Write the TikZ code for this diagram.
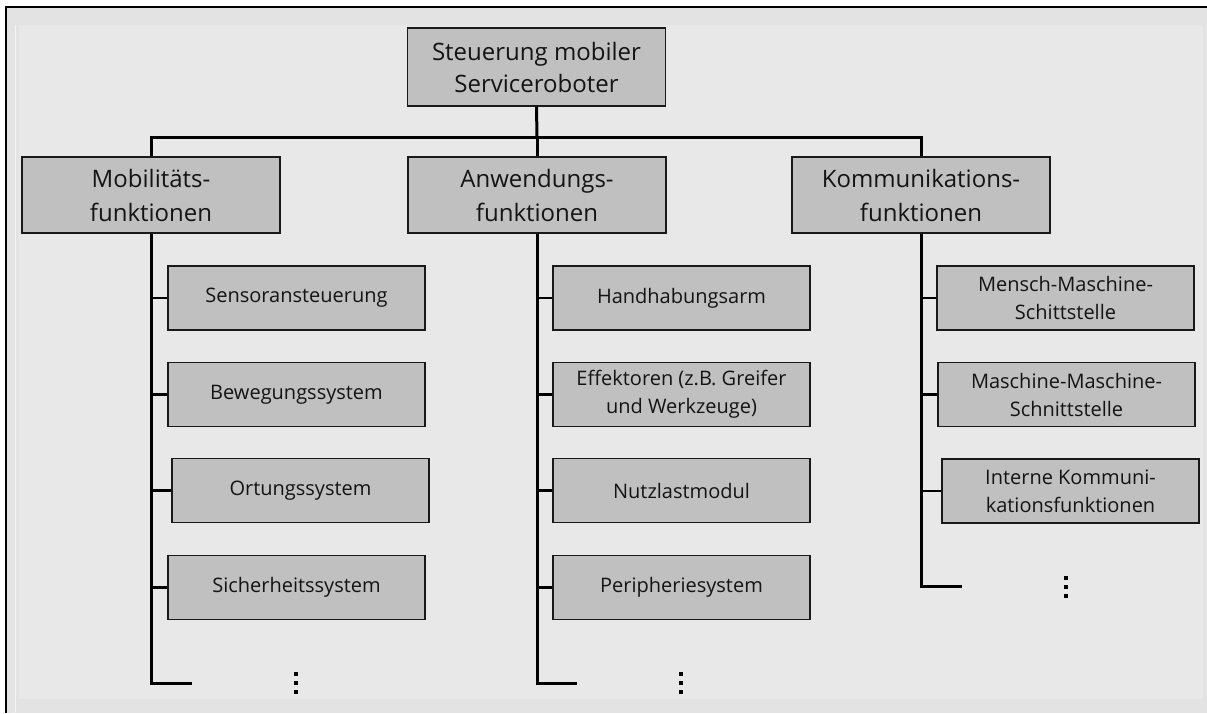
\documentclass[tikz,border=0pt]{standalone}
\usepackage{fontspec}
\setmainfont{Open Sans}
\definecolor{boxgray}{HTML}{C0C0C0}
\definecolor{bgouter}{HTML}{E3E3E3}
\definecolor{bginner}{HTML}{E8E8E8}
\definecolor{inktext}{HTML}{141414}
\begin{document}
\begin{tikzpicture}[x=1pt,y=-1pt,
  box/.style={draw=black!90, line width=1.3pt, fill=boxgray, text=inktext,
    align=center, inner sep=0pt},
  rootbox/.style={box, minimum width=258pt, minimum height=78pt,
    font=\fontsize{24}{32}\selectfont},
  groupbox/.style={box, minimum width=258pt, minimum height=76pt,
    font=\fontsize{24}{34}\selectfont},
  leafbox/.style={box, minimum width=257pt, minimum height=64pt,
    font=\fontsize{20}{28}\selectfont},
  link/.style={draw=black, line width=3pt},
  twig/.style={draw=black, line width=2.6pt},
  dot/.style={fill=black}
]
\useasboundingbox (0,0) rectangle (1207,713);

% backdrop and frame
\fill[white] (0,0) rectangle (1207,713);
\fill[bgouter] (6,7) rectangle (1207,713);
\fill[bginner] (19,25) rectangle (1203,699);
\draw[white!60!bgouter, line width=0.8pt] (15,25) -- (15,713);
\draw[black, line width=2pt] (5,6.5) -- (1207,6.5);
\draw[black, line width=2.4pt] (6.2,6) -- (6.2,713);

% root and the three function groups
\node[rootbox] (root) at (536.5,67) {Steuerung mobiler\\Serviceroboter};
\node[groupbox] (mob) at (151,195) {Mobilitäts-\\funktionen};
\node[groupbox] (anw) at (537,195) {Anwendungs-\\funktionen};
\node[groupbox] (kom) at (921,195) {Kommunikations-\\funktionen};

% leaves: mobility
\node[leafbox] (sens) at (296.5,298) {Sensoransteuerung};
\node[leafbox] (bew)  at (296.5,394.5) {Bewegungssystem};
\node[leafbox] (ort)  at (300.5,490.5) {Ortungssystem};
\node[leafbox] (sich) at (296.5,587.5) {Sicherheitssystem};

% leaves: application
\node[leafbox] (hand) at (681.5,298) {Handhabungsarm};
\node[leafbox] (eff)  at (681.5,394.5) {Effektoren (z.B. Greifer\\und Werkzeuge)};
\node[leafbox] (nutz) at (681.5,490.5) {Nutzlastmodul};
\node[leafbox] (peri) at (681.5,587.5) {Peripheriesystem};

% leaves: communication
\node[leafbox] (mmi)  at (1065.5,298) {Mensch-Maschine-\\Schittstelle};
\node[leafbox] (mms)  at (1066.5,394.5) {Maschine-Maschine-\\Schnittstelle};
\node[leafbox] (ikom) at (1070.5,491) {Interne Kommuni-\\kationsfunktionen};

% open ends of the three trunks
\coordinate (mobend) at (192,683);
\coordinate (anwend) at (577,683);
\coordinate (komend) at (962,586);

% bus from root to groups
\coordinate (bus) at (537,137);
\draw[link] (root.south) -- (bus);
\draw[link] (mob.north) |- (bus) -| (kom.north);
\draw[link] (bus) -- (anw.north);

% trunks
\draw[link] (mob.south) |- (mobend);
\draw[link] (anw.south) |- (anwend);
\draw[link] (kom.south) |- (komend);

% branches to leaves
\foreach \g/\l in {mob/sens,mob/bew,mob/ort,mob/sich,
                   anw/hand,anw/eff,anw/nutz,anw/peri,
                   kom/mmi,kom/mms,kom/ikom}
  \draw[twig] (\g.south) |- (\l.west);

% continuation marks
\foreach \cx/\cy in {296/683, 681/683, 1066/587}
  \foreach \dy in {-9,0,9}
    \fill[dot] (\cx-2.3,\cy+\dy-2.3) rectangle (\cx+2.3,\cy+\dy+2.3);
\end{tikzpicture}
\end{document}
